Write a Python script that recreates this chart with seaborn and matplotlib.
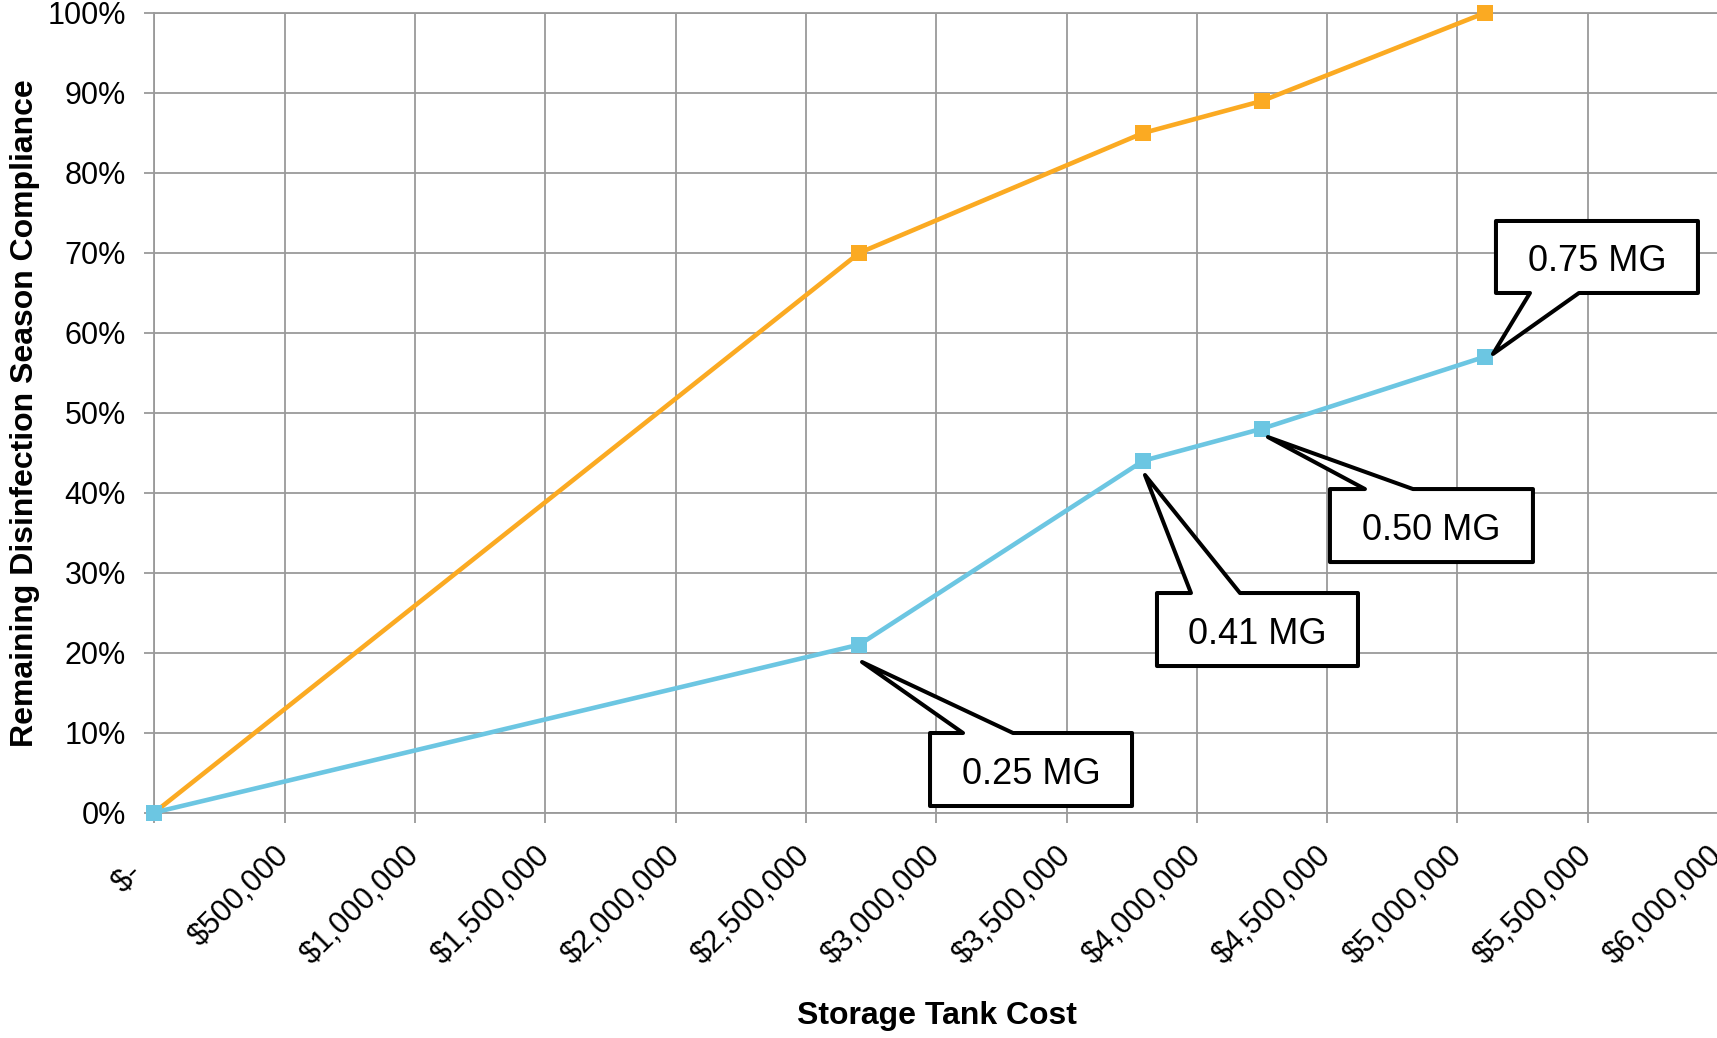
import matplotlib
matplotlib.use("Agg")
import matplotlib.pyplot as plt
import matplotlib.transforms as mtransforms
from matplotlib.patches import Polygon
import seaborn as sns
import pandas as pd

# ---------------- data ----------------
costs = [0, 2705000, 3795000, 4250000, 5105000]
upper_compliance = [0.00, 0.70, 0.85, 0.89, 1.00]
lower_compliance = [0.00, 0.21, 0.44, 0.48, 0.57]
series_names = ["Upper", "Lower"]
callout_labels = ["0.25 MG", "0.41 MG", "0.50 MG", "0.75 MG"]
x_ticks = list(range(0, 6000001, 500000))
x_tick_labels = ["$-   "] + [f"${v:,}" for v in x_ticks[1:]]
y_ticks = [i / 10 for i in range(11)]
y_tick_labels = [f"{i * 10}%" for i in range(11)]

ORANGE = "#FBAA22"
BLUE = "#6CC6E2"
GRID = "#9A9A9A"

df = pd.DataFrame({
    "cost": costs + costs,
    "compliance": upper_compliance + lower_compliance,
    "series": [series_names[0]] * len(costs) + [series_names[1]] * len(costs),
})

sns.set_theme(style="white")
plt.rcParams["font.family"] = ["Liberation Sans", "DejaVu Sans"]

W, H = 1717, 1038
fig = plt.figure(figsize=(W / 100, H / 100), dpi=100)
x0, x1, y0, y1 = 154.4, 1718.0, 13.0, 812.5
ax = fig.add_axes([x0 / W, 1 - y1 / H, (x1 - x0) / W, (y1 - y0) / H])

sns.lineplot(data=df, x="cost", y="compliance", hue="series", style="series",
             markers=["s", "s"], dashes=False, palette=[ORANGE, BLUE],
             linewidth=3.3, markersize=11, markeredgewidth=0, legend=False,
             ax=ax, zorder=3)
for ln in ax.get_lines():
    ln.set_clip_on(False)

ax.set_xlim(0, 6000000)
ax.set_ylim(0, 1.0)
ax.set_xticks(x_ticks)
ax.set_xticklabels(x_tick_labels)
ax.set_yticks(y_ticks)
ax.set_yticklabels(y_tick_labels)
ax.grid(True, color=GRID, linewidth=1.3)
ax.set_axisbelow(True)
for s in ax.spines.values():
    s.set_color(GRID)
    s.set_linewidth(1.3)
ax.tick_params(axis="both", which="major", bottom=True, left=True,
               direction="out", length=7.5, width=1.3, color=GRID,
               labelsize=22, labelcolor="black")
ax.tick_params(axis="y", pad=13)
ax.tick_params(axis="x", pad=20)
plt.setp(ax.get_xticklabels(), rotation=45, ha="right", va="center",
         rotation_mode="anchor")

ax.set_xlabel("Storage Tank Cost", fontsize=23, fontweight="bold", color="black")
ax.set_ylabel("Remaining Disinfection Season Compliance", fontsize=23,
              fontweight="bold", color="black")
ax.xaxis.set_label_coords((937 - x0) / (x1 - x0), (y1 - 1016) / (y1 - y0))
ax.xaxis.label.set_va("center")
ax.yaxis.set_label_coords((24.5 - x0) / (x1 - x0), 0.5)
ax.yaxis.label.set_va("center")

# ---------------- callouts (offsets in pixels, y downward) ----------------
# (left, right, top, bottom, wedge1, wedge2, tipx, tipy, wedge side)
callout_geom = [
    (70.7, 272.7, 88.4, 161.4, 103.7, 153.7, 2.7, 17.4, "top"),
    (13.6, 214.6, 132.3, 205.3, 47.6, 96.6, 1.6, 14.3, "top"),
    (68.0, 271.0, 60.3, 133.3, 103.0, 151.0, 6.0, 8.3, "top"),
    (11.2, 213.2, -135.8, -63.8, 45.2, 94.2, 8.2, -2.8, "bottom"),
]
TEXT_SHIFT = 5.0

for i, (lab, g) in enumerate(zip(callout_labels, callout_geom)):
    px, py = costs[i + 1], lower_compliance[i + 1]
    L, R, T, B, w1, w2, tx, ty, side = g
    if side == "top":
        pts = [(L, T), (w1, T), (tx, ty), (w2, T), (R, T), (R, B), (L, B)]
    else:
        pts = [(L, T), (R, T), (R, B), (w2, B), (tx, ty), (w1, B), (L, B)]
    verts = [(a, -b) for a, b in pts]
    tr = mtransforms.Affine2D() + mtransforms.ScaledTranslation(px, py, ax.transData)
    poly = Polygon(verts, closed=True, facecolor="white", edgecolor="black",
                   linewidth=2.9, joinstyle="round", transform=tr, zorder=5,
                   clip_on=False)
    ax.add_patch(poly)
    ax.annotate(lab, xy=(px, py),
                xytext=((L + R) / 2, -((T + B) / 2 + TEXT_SHIFT)),
                textcoords="offset pixels", ha="center", va="center",
                fontsize=26, color="black", zorder=6)

fig.savefig("out.png", dpi=100, facecolor="white")
